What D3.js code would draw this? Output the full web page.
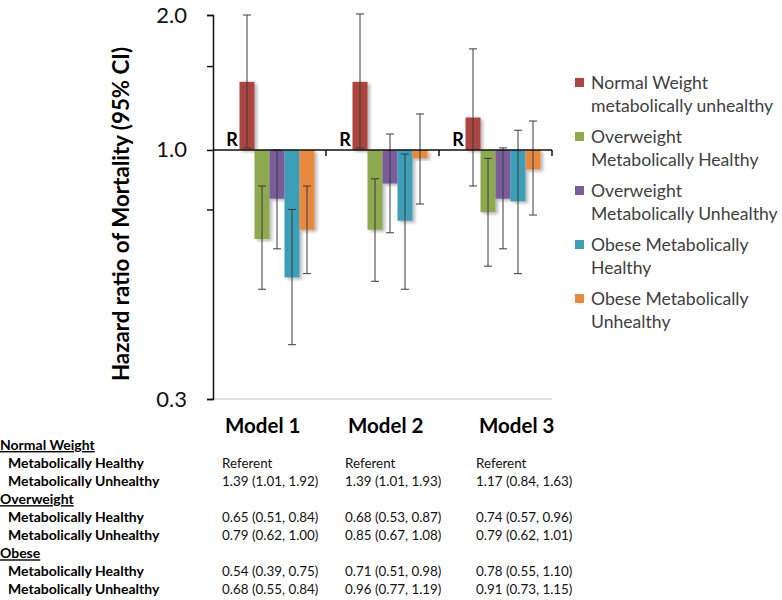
<!DOCTYPE html>
<html>
<head>
<meta charset="utf-8">
<script src="https://cdn.jsdelivr.net/npm/d3@7"></script>
<style>
  html, body { margin: 0; padding: 0; background: #fff; }
  svg { display: block; font-family: Lato, "Open Sans", sans-serif; }
</style>
</head>
<body>
<svg id="chart" width="782" height="600"></svg>
<script>
// ---------- data ----------
const models = ["Model 1", "Model 2", "Model 3"];
const seriesNames = [
  "Normal Weight metabolically unhealthy",
  "Overweight Metabolically Healthy",
  "Overweight Metabolically Unhealthy",
  "Obese Metabolically Healthy",
  "Obese Metabolically Unhealthy"
];
const legendLines = [
  ["Normal Weight", "metabolically unhealthy"],
  ["Overweight", "Metabolically Healthy"],
  ["Overweight", "Metabolically Unhealthy"],
  ["Obese Metabolically", "Healthy"],
  ["Obese Metabolically", "Unhealthy"]
];
const seriesColors = ["#AC4441", "#8DAA4F", "#7A5C9B", "#3E9EB8", "#E8893F"];
// hazard ratios per series, one value per model
const hr     = [[1.39, 1.39, 1.17], [0.65, 0.68, 0.74], [0.79, 0.85, 0.79], [0.54, 0.71, 0.78], [0.68, 0.96, 0.91]];
const ciLow  = [[1.01, 1.01, 0.84], [0.51, 0.53, 0.57], [0.62, 0.67, 0.62], [0.39, 0.51, 0.55], [0.55, 0.77, 0.73]];
const ciHigh = [[1.92, 1.93, 1.63], [0.84, 0.87, 0.96], [1.00, 1.08, 1.01], [0.75, 0.98, 1.10], [0.84, 1.19, 1.15]];
const referentValue = 1.0;
const referentLabel = "R";
const yAxisMin = 0.3, yAxisMax = 1.92;
const yTickValues = [0.3, 0.75, 1.0, 1.5, 1.92];
const yTickLabels = ["0.3", "", "1.0", "", "2.0"];
const yTitle = "Hazard ratio of Mortality (95% CI)";
// table
const tableRows = [
  { label: "Normal Weight", header: true },
  { label: "Metabolically Healthy", values: ["Referent", "Referent", "Referent"] },
  { label: "Metabolically Unhealthy", values: ["1.39 (1.01, 1.92)", "1.39 (1.01, 1.93)", "1.17 (0.84, 1.63)"] },
  { label: "Overweight", header: true },
  { label: "Metabolically Healthy", values: ["0.65 (0.51, 0.84)", "0.68 (0.53, 0.87)", "0.74 (0.57, 0.96)"] },
  { label: "Metabolically Unhealthy", values: ["0.79 (0.62, 1.00)", "0.85 (0.67, 1.08)", "0.79 (0.62, 1.01)"] },
  { label: "Obese", header: true },
  { label: "Metabolically Healthy", values: ["0.54 (0.39, 0.75)", "0.71 (0.51, 0.98)", "0.78 (0.55, 1.10)"] },
  { label: "Metabolically Unhealthy", values: ["0.68 (0.55, 0.84)", "0.96 (0.77, 1.19)", "0.91 (0.73, 1.15)"] }
];

// ---------- layout ----------
const svg = d3.select("#chart");
const plot = { left: 213, right: 552, top: 15, bottom: 399 };

const y = d3.scaleLog().domain([yAxisMin, yAxisMax]).range([plot.bottom, plot.top]);
const x0 = d3.scaleBand().domain(models).range([plot.left, plot.right]);
const slots = [referentLabel].concat(seriesNames);
const x1 = d3.scaleBand().domain(slots).range([11.5, x0.bandwidth() - 11.5]);

// shadow filter
const defs = svg.append("defs");
const f = defs.append("filter").attr("id", "shadow")
  .attr("x", "-30%").attr("y", "-10%").attr("width", "170%").attr("height", "130%");
f.append("feDropShadow").attr("dx", 2.5).attr("dy", 2).attr("stdDeviation", 1.6)
  .attr("flood-color", "#000").attr("flood-opacity", 0.28);

// bottom light line
svg.append("line")
  .attr("x1", plot.left).attr("x2", plot.right)
  .attr("y1", plot.bottom).attr("y2", plot.bottom)
  .attr("stroke", "#d9d9d9").attr("stroke-width", 1.5);

// bars
const barData = [];
seriesNames.forEach((s, si) => {
  models.forEach((m, mi) => {
    barData.push({ s, si, m, v: hr[si][mi], lo: ciLow[si][mi], hi: ciHigh[si][mi] });
  });
});
const y1 = y(referentValue);
svg.append("g").selectAll("rect").data(barData).join("rect")
  .attr("x", d => x0(d.m) + x1(d.s))
  .attr("width", x1.bandwidth())
  .attr("y", d => Math.min(y(d.v), y1))
  .attr("height", d => Math.abs(y(d.v) - y1))
  .attr("fill", d => seriesColors[d.si])
  .attr("filter", "url(#shadow)");

// error bars
const eb = svg.append("g").attr("stroke", "#3a3a3a").attr("stroke-width", 1);
const cap = 4;
barData.forEach(d => {
  const cx = x0(d.m) + x1(d.s) + x1.bandwidth() / 2;
  eb.append("line").attr("x1", cx).attr("x2", cx).attr("y1", y(d.lo)).attr("y2", y(d.hi));
  eb.append("line").attr("x1", cx - cap).attr("x2", cx + cap).attr("y1", y(d.lo)).attr("y2", y(d.lo));
  eb.append("line").attr("x1", cx - cap).attr("x2", cx + cap).attr("y1", y(d.hi)).attr("y2", y(d.hi));
});

// baseline at 1.0 with category ticks
svg.append("line")
  .attr("x1", plot.left).attr("x2", plot.right)
  .attr("y1", y1).attr("y2", y1)
  .attr("stroke", "#111").attr("stroke-width", 1.5);
models.forEach(m => {
  const xb = x0(m) + x0.bandwidth();
  svg.append("line").attr("x1", xb).attr("x2", xb).attr("y1", y1).attr("y2", y1 + 6)
    .attr("stroke", "#111").attr("stroke-width", 1.5);
});

// referent labels
svg.append("g").selectAll("text").data(models).join("text")
  .attr("x", m => x0(m) + x1(referentLabel) + x1.bandwidth() / 2)
  .attr("y", y1 - 4)
  .attr("text-anchor", "middle")
  .attr("font-weight", "bold").attr("font-size", 18).attr("fill", "#000")
  .text(referentLabel);

// y axis
const yAxis = d3.axisLeft(y).tickValues(yTickValues)
  .tickFormat((d, i) => yTickLabels[i]).tickSize(6).tickPadding(20);
const ga = svg.append("g").attr("transform", `translate(${plot.left},0)`).call(yAxis);
ga.select(".domain").attr("stroke", "#111").attr("stroke-width", 1.5);
ga.selectAll(".tick line").attr("stroke", "#111").attr("stroke-width", 1.5);
ga.selectAll(".tick text").attr("font-family", "Lato, sans-serif").attr("font-size", 22).attr("fill", "#111");

// y title
svg.append("text")
  .attr("transform", `translate(129, ${(45 + 383) / 2}) rotate(-90)`)
  .attr("text-anchor", "middle")
  .attr("font-weight", "bold").attr("font-size", 22.3).attr("fill", "#000")
  .text(yTitle);

// legend
const legend = svg.append("g").attr("transform", "translate(575, 0)");
legendLines.forEach((lines, i) => {
  const top = 83 + i * 54;
  legend.append("rect").attr("x", 0).attr("y", top - 5).attr("width", 9).attr("height", 9)
    .attr("fill", seriesColors[i]);
  lines.forEach((t, j) => {
    legend.append("text").attr("x", 16).attr("y", top + j * 22.5)
      .attr("dy", "0.35em").attr("font-size", 17.6).attr("fill", "#404040").text(t);
  });
});

// model labels and table
const colX = [222, 345, 476];
svg.append("g").selectAll("text").data(models).join("text")
  .attr("x", (m, i) => colX[i] + 3).attr("y", 433)
  .attr("font-weight", "bold").attr("font-size", 20.5).attr("fill", "#000")
  .text(m => m);

const rowY0 = 450, rowStep = 18.05;
const tbl = svg.append("g");
tableRows.forEach((r, i) => {
  const yy = rowY0 + i * rowStep;
  const t = tbl.append("text").attr("x", r.header ? 0 : 8).attr("y", yy)
    .attr("font-weight", "bold").attr("font-size", 14).attr("fill", "#000").text(r.label);
  if (r.header) t.attr("text-decoration", "underline");
  if (r.values) {
    r.values.forEach((v, k) => {
      tbl.append("text").attr("x", colX[k]).attr("y", yy)
        .attr("font-size", 13.4).attr("fill", "#111").text(v);
    });
  }
});
</script>
</body>
</html>
